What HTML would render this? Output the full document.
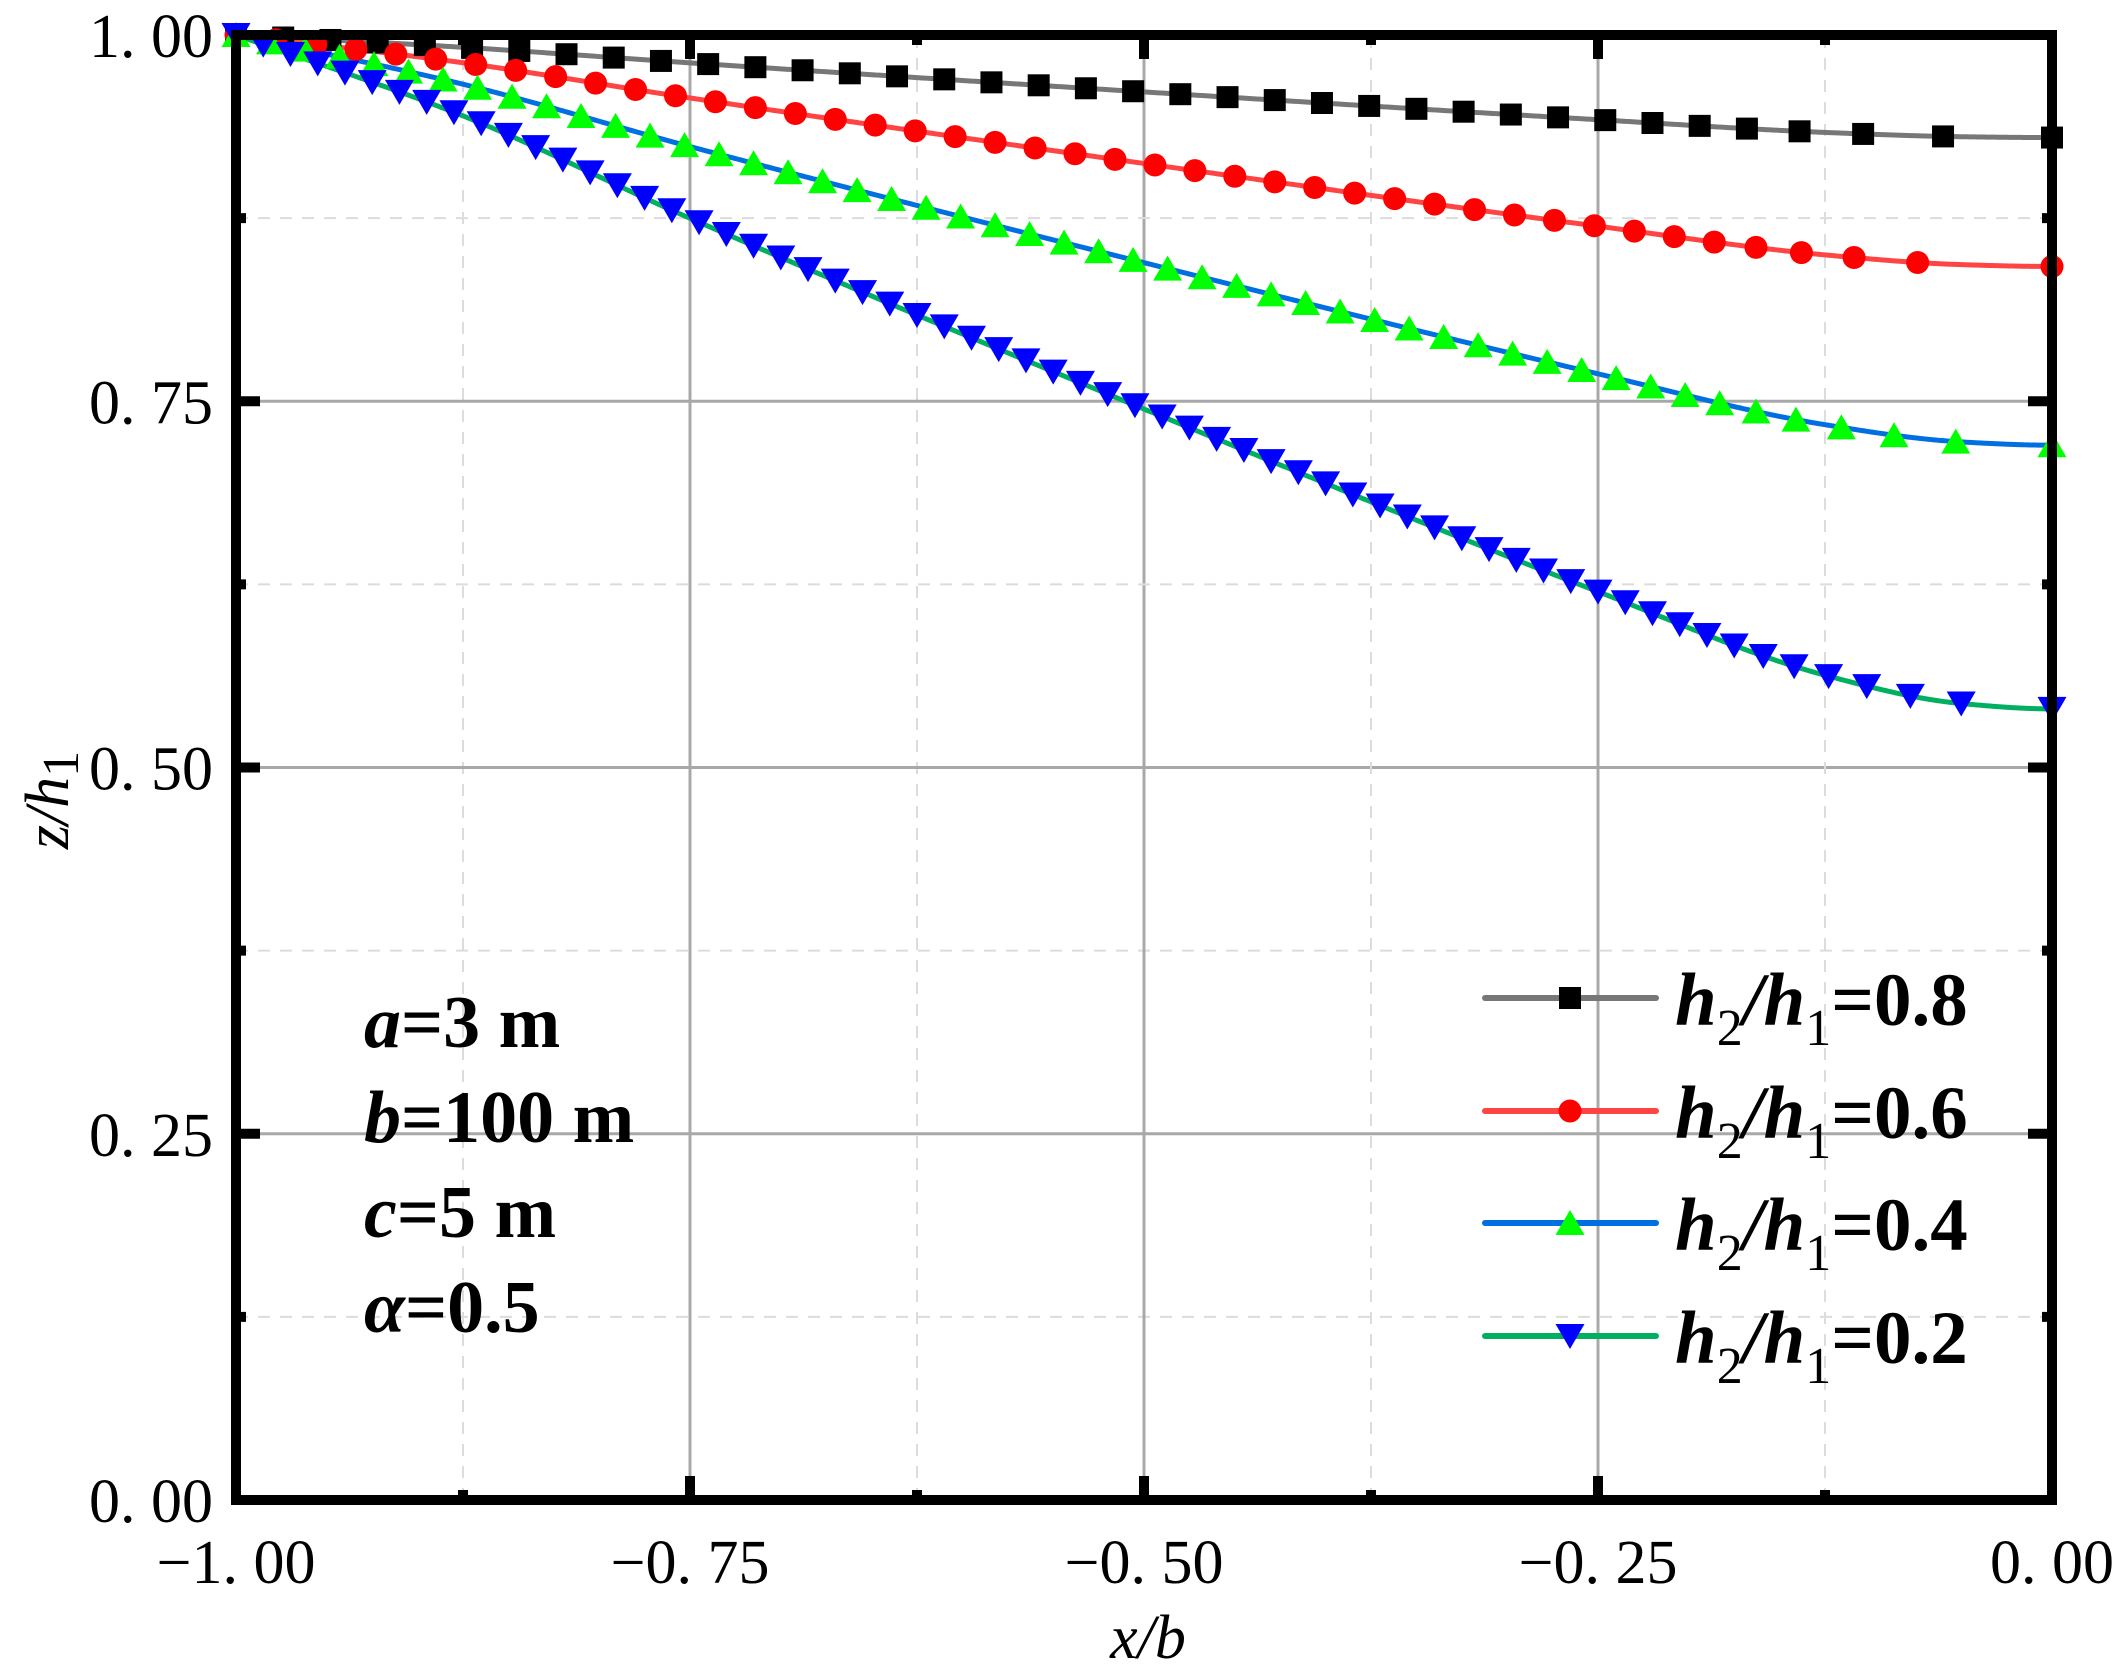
<!DOCTYPE html>
<html><head><meta charset="utf-8"><style>
html,body{margin:0;padding:0;background:#fff;}
svg{display:block;}
.tk{font-family:"Liberation Serif","Noto Serif CJK SC",serif;font-size:62px;fill:#000;}
.bt{font-family:"Liberation Serif",serif;font-weight:bold;font-size:74px;fill:#000;}
.lg{font-family:"Liberation Serif",serif;font-weight:bold;font-size:75px;fill:#000;}
</style></head><body>
<svg id="s" width="2125" height="1670" viewBox="0 0 2125 1670" xmlns="http://www.w3.org/2000/svg">
<g id="grid"></g>
<g id="series"></g>
<g id="axes"></g>
<g id="txt">
<text class="bt" x="364" y="1047"><tspan font-style="italic">a</tspan>=3 m</text>
<text class="bt" x="364" y="1142"><tspan font-style="italic">b</tspan>=100 m</text>
<text class="bt" x="364" y="1237"><tspan font-style="italic">c</tspan>=5 m</text>
<text class="bt" x="364" y="1332"><tspan font-style="italic">α</tspan>=0.5</text>
<text class="tk" font-style="italic" font-size="78" x="1148" y="1658" text-anchor="middle">x/b</text>
<text class="tk" font-style="italic" font-size="78" transform="translate(68,800) rotate(-90)" text-anchor="middle">z/h<tspan font-size="52" dy="10" font-style="normal">1</tspan></text>
</g>
<g id="leg"></g>
</svg>
<script>
const NS="http://www.w3.org/2000/svg";
const X=v=>236+(v+1)*1816, Y=v=>1500-1465*v;
function el(p,t,a,txt){const e=document.createElementNS(NS,t);for(const k in a)e.setAttribute(k,a[k]);if(txt!==undefined)e.textContent=txt;p.appendChild(e);return e;}
const G=document.getElementById('grid'),A=document.getElementById('axes'),S=document.getElementById('series'),L=document.getElementById('leg');
for(let i=1;i<8;i++){const v=i*0.125;const maj=i%2==0;
 const st=maj?{stroke:'#a8a8a8','stroke-width':3}:{stroke:'#dcdcdc','stroke-width':2,'stroke-dasharray':'12,10'};
 el(G,'line',Object.assign({x1:X(-1),x2:X(0),y1:Y(v),y2:Y(v)},st));
 el(G,'line',Object.assign({x1:X(-1+v),x2:X(-1+v),y1:Y(0),y2:Y(1)},st));}
const tk=[0,0.125,0.25,0.5,0.75,0.875,0.95,1],fk=[0,0.12,0.272,0.555,0.826,0.95,0.992,1];
const n=tk.length,d=[],m=[];for(let i=0;i<n-1;i++)d.push((fk[i+1]-fk[i])/(tk[i+1]-tk[i]));
m[0]=d[0];m[n-1]=0;for(let i=1;i<n-1;i++)m[i]=(d[i-1]*d[i]<=0)?0:2/(1/d[i-1]+1/d[i]);
function f(t){let i=0;while(i<n-2&&t>tk[i+1])i++;const h=tk[i+1]-tk[i],s=(t-tk[i])/h;
 const h00=2*s*s*s-3*s*s+1,h10=s*s*s-2*s*s+s,h01=-2*s*s*s+3*s*s,h11=s*s*s-s*s;
 return h00*fk[i]+h10*h*m[i]+h01*fk[i+1]+h11*h*m[i+1];}
const ser=[
 {e:0.93,lc:'#777777',mc:'#000000',mk:'sq',sp:46},
 {e:0.842,lc:'#ff4444',mc:'#ff0000',mk:'ci',sp:39.5},
 {e:0.72,lc:'#0070e0',mc:'#00ff00',mk:'up',sp:35},
 {e:0.54,lc:'#00b060',mc:'#0000ff',mk:'dn',sp:28.3}];
function marker(p,type,c,x,y){
 if(type=='sq')el(p,'rect',{x:x-11,y:y-11,width:22,height:22,fill:c});
 else if(type=='ci')el(p,'circle',{cx:x,cy:y,r:11.5,fill:c});
 else if(type=='up')el(p,'polygon',{points:`${x-14.5},${y+12} ${x+14.5},${y+12} ${x},${y-13}`,fill:c});
 else el(p,'polygon',{points:`${x-14.5},${y-12} ${x+14.5},${y-12} ${x},${y+13}`,fill:c});}
const MG=el(S,'g',{});
ser.forEach(s=>{const pts=[];for(let i=0;i<=1000;i++){const t=i/1000;pts.push([X(t-1),Y(1-(1-s.e)*f(t)),t]);}
 el(S,'polyline',{points:pts.map(p=>p[0]+','+p[1]).join(' '),fill:'none',stroke:s.lc,'stroke-width':5});
 let acc=0;marker(MG,s.mk,s.mc,pts[0][0],pts[0][1]);
 for(let i=1;i<pts.length;i++){acc+=Math.hypot(pts[i][0]-pts[i-1][0],pts[i][1]-pts[i-1][1]);
  const t=pts[i][2];const g=1+1.3*Math.pow(Math.max(0,(t-0.82)/0.18),1.5);
  if(acc>=s.sp*g){ if(pts[pts.length-1][0]-pts[i][0]>s.sp*1.6) marker(MG,s.mk,s.mc,pts[i][0],pts[i][1]); acc=0;}}
 const e=pts[pts.length-1];marker(MG,s.mk,s.mc,e[0],e[1]);});
S.appendChild(MG);
el(A,'rect',{x:236,y:35,width:1816,height:1465,fill:'none',stroke:'#000','stroke-width':10});
for(let i=0;i<=8;i++){const v=i*0.125,len=(i%2==0)?24:10;
 el(A,'line',{x1:X(-1),x2:X(-1)+len,y1:Y(v),y2:Y(v),stroke:'#000','stroke-width':10});
 el(A,'line',{x1:X(0),x2:X(0)-len,y1:Y(v),y2:Y(v),stroke:'#000','stroke-width':10});
 el(A,'line',{x1:X(-1+v),x2:X(-1+v),y1:Y(0),y2:Y(0)-len,stroke:'#000','stroke-width':10});
 el(A,'line',{x1:X(-1+v),x2:X(-1+v),y1:Y(1),y2:Y(1)+len,stroke:'#000','stroke-width':10});}
const T=document.getElementById('txt');
[0,0.25,0.5,0.75,1].forEach(v=>{el(T,'text',{class:'tk',x:213,y:Y(v)+22,'text-anchor':'end'},v.toFixed(2).replace('.','. '));});
['−1. 00','−0. 75','−0. 50','−0. 25','0. 00'].forEach((s,i)=>{el(T,'text',{class:'tk',x:X(-1+i*0.25),y:1583,'text-anchor':'middle'},s);});
const rows=[998,1111,1223,1336],lab=['0.8','0.6','0.4','0.2'];
ser.forEach((s,i)=>{const y=rows[i];
 el(L,'line',{x1:1485,x2:1656,y1:y,y2:y,stroke:s.lc,'stroke-width':6,'stroke-linecap':'round'});
 marker(L,s.mk,s.mc,1570,y);
 const t=el(L,'text',{class:'lg',x:1675,y:y+27});
 el(t,'tspan',{'font-style':'italic'},'h');el(t,'tspan',{'font-size':52,dy:20,'font-weight':'normal'},'2');
 el(t,'tspan',{'font-style':'italic',dy:-20},'/h');el(t,'tspan',{'font-size':52,dy:20,'font-weight':'normal'},'1');
 el(t,'tspan',{dy:-20},'='+lab[i]);});
</script>
</body></html>
